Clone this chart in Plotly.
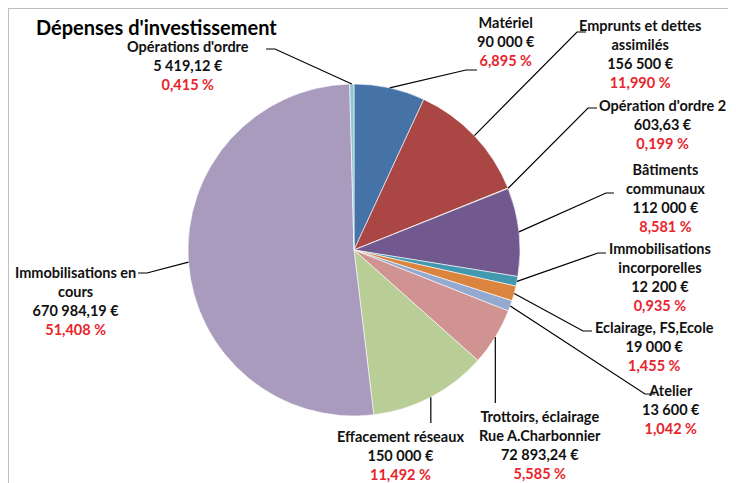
import numpy as np
import plotly.graph_objects as go

W, H = 736, 483
OFF = 8  # page body margin of the html output

labels = ["Matériel", "Emprunts et dettes<br>assimilés", "Opération d'ordre 2",
          "Bâtiments<br>communaux", "Immobilisations<br>incorporelles",
          "Eclairage, FS,Ecole", "Atelier", "Trottoirs, éclairage<br>Rue A.Charbonnier",
          "Effacement réseaux", "Immobilisations en<br>cours", "Opérations d'ordre"]
amounts = [90000, 156500, 603.63, 112000, 12200, 19000, 13600, 72893.24,
           150000, 670984.19, 5419.12]
amount_text = ["90 000 €", "156 500 €", "603,63 €", "112 000 €", "12 200 €", "19 000 €",
               "13 600 €", "72 893,24 €", "150 000 €", "670 984,19 €", "5 419,12 €"]
pct_text = ["6,895 %", "11,990 %", "0,199 %", "8,581 %", "0,935 %", "1,455 %",
            "1,042 %", "5,585 %", "11,492 %", "51,408 %", "0,415 %"]
colors = ["#4572A7", "#AA4643", "#89A54E", "#71588F", "#4198AF", "#DB843D",
          "#93A9CF", "#D19392", "#B9CD96", "#A99BBD", "#92C5D6"]

# pie geometry in screen pixels
CX, CY, R = 354, 250, 166
# label block centre x, top y ; leader elbow and end of horizontal tick
label_pos = [(506, 12), (640, 15), (662, 95), (665, 159), (660, 238), (654, 317),
             (671, 380), (540, 406), (400, 426), (75, 262), (188, 36)]
elbows = [(466, 70), (577, 32), (588, 108), (606, 193), (598, 253), (583, 331),
          (645, 394), (None, 403), (None, 423), (147, 273), (275, 49)]
ends = [(477, 70), (586, 32), (597, 108), (614, 193), (606, 253), (592, 331),
        (655, 394), None, None, (138, 273), (266, 49)]


def px(x):
    return (x - OFF) / W


def py(y):
    return 1 - (y - OFF) / H


fig = go.Figure(go.Pie(
    values=amounts, labels=[l.replace("<br>", " ") for l in labels],
    sort=False, direction="clockwise", rotation=0,
    marker=dict(colors=colors, line=dict(color="white", width=0.6)),
    textinfo="none", hoverinfo="label+value",
    domain=dict(x=[px(CX - R), px(CX + R)], y=[py(CY + R), py(CY - R)]),
    showlegend=False,
))

vals = np.array(amounts)
cum = np.cumsum(vals) / vals.sum()
mids = cum - vals / vals.sum() / 2

shapes = [
    dict(type="line", xref="paper", yref="paper", x0=0, x1=1, y0=1, y1=1,
         line=dict(color="#BFBFBF", width=2)),
    dict(type="line", xref="paper", yref="paper", x0=0, x1=0, y0=0, y1=1,
         line=dict(color="#BFBFBF", width=2)),
]
annotations = []
for i, lab in enumerate(labels):
    a = mids[i] * 2 * np.pi
    sx, sy = CX + R * np.sin(a), CY - R * np.cos(a)
    ex, ey = elbows[i]
    if ex is None:
        ex = sx
    path = f"M {px(sx)} {py(sy)} L {px(ex)} {py(ey)}"
    if ends[i] is not None:
        path += f" L {px(ends[i][0])} {py(ends[i][1])}"
    shapes.append(dict(type="path", xref="paper", yref="paper", path=path,
                       line=dict(color="black", width=1.2)))
    lx, ly = label_pos[i]
    annotations.append(dict(
        x=px(lx), y=py(ly), xref="paper", yref="paper", xanchor="center", yanchor="top",
        showarrow=False, align="center",
        text=f"<b>{lab}<br>{amount_text[i]}<br><span style='color:#E8242C'>{pct_text[i]}</span></b>",
        font=dict(family="Lato", size=14.5, color="#111111"),
    ))

annotations.append(dict(
    x=px(156), y=py(27), xref="paper", yref="paper", xanchor="center", yanchor="middle",
    showarrow=False, text="<b>Dépenses d'investissement</b>",
    font=dict(family="Lato", size=20, color="black"),
))

fig.update_layout(
    width=W, height=H, margin=dict(l=0, r=0, t=0, b=0),
    paper_bgcolor="white", plot_bgcolor="white",
    shapes=shapes, annotations=annotations,
    font=dict(family="Lato"),
)

fig.write_html("out.html")
